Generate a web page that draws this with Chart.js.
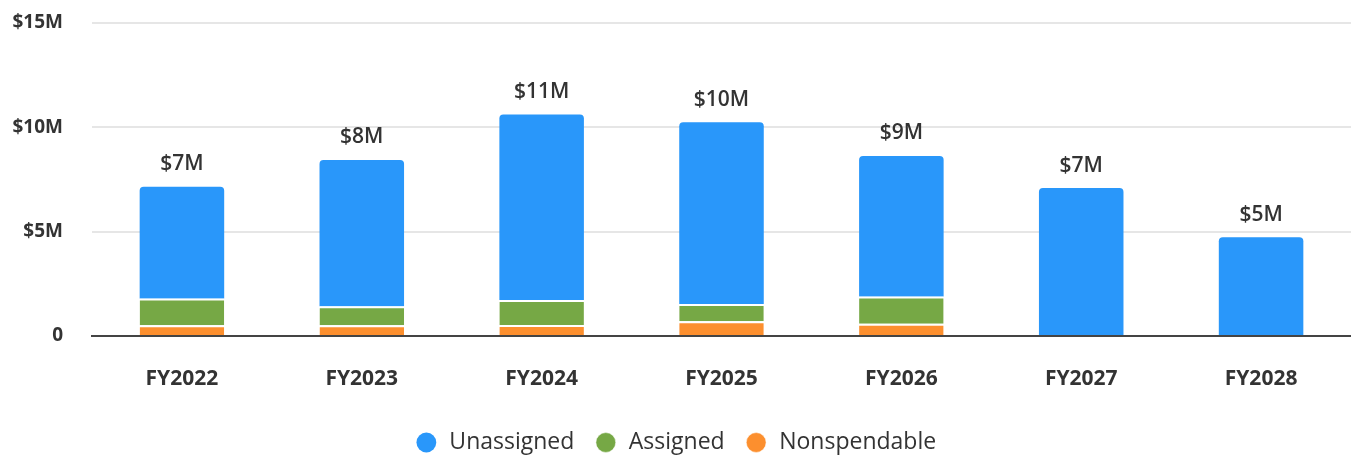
<!DOCTYPE html>
<html>
<head>
<meta charset="utf-8">
<script src="https://cdn.jsdelivr.net/npm/chart.js@4"></script>
<style>
  body { margin: 0; background: #fff; }
  #wrap { width: 1351px; height: 455px; }
</style>
</head>
<body>
<div id="wrap"><canvas id="fundChart"></canvas></div>
<script>
const years = ["FY2022", "FY2023", "FY2024", "FY2025", "FY2026", "FY2027", "FY2028"];
// values in $M
const unassigned = [5.35, 7.02, 8.9, 8.71, 6.74, 7.09, 4.73];
const assigned = [1.28, 0.9, 1.19, 0.82, 1.3, 0, 0];
const nonspendable = [0.52, 0.52, 0.53, 0.71, 0.59, 0, 0];
const yTicks = [0, 5, 10, 15];

const fontFamily = "'Open Sans', sans-serif";
const textColor = "#333333";

// total label over each stack
const totalsPlugin = {
  id: "totals",
  afterDatasetsDraw(chart) {
    const ctx = chart.ctx;
    const yScale = chart.scales.y;
    const xScale = chart.scales.x;
    ctx.save();
    ctx.font = "600 21px " + fontFamily;
    ctx.fillStyle = textColor;
    ctx.textAlign = "center";
    ctx.textBaseline = "bottom";
    years.forEach((yr, i) => {
      const total = unassigned[i] + assigned[i] + nonspendable[i];
      const x = xScale.getPixelForValue(i);
      const y = yScale.getPixelForValue(total);
      ctx.fillText("$" + Math.round(total) + "M", x, y - 12);
    });
    ctx.restore();
  },
};

const commonBar = {
  borderColor: "#ffffff",
  borderWidth: { top: 2, left: 0, right: 0, bottom: 0 },
  borderSkipped: "bottom",
  barPercentage: 0.47,
  categoryPercentage: 1,
};

new Chart(document.getElementById("fundChart"), {
  type: "bar",
  data: {
    labels: years,
    datasets: [
      {
        label: "Nonspendable",
        data: nonspendable,
        backgroundColor: "#fc8f2e",
        ...commonBar,
      },
      {
        label: "Assigned",
        data: assigned,
        backgroundColor: "#76a845",
        ...commonBar,
      },
      {
        label: "Unassigned",
        data: unassigned,
        backgroundColor: "#2997fa",
        ...commonBar,
        borderWidth: 0,
        borderRadius: { topLeft: 4, topRight: 4, bottomLeft: 0, bottomRight: 0 },
      },
    ],
  },
  options: {
    responsive: true,
    maintainAspectRatio: false,
    animation: false,
    layout: { padding: 0 },
    plugins: {
      legend: {
        position: "bottom",
        reverse: true,
        maxHeight: 44,
        labels: {
          usePointStyle: true,
          pointStyle: "circle",
          boxWidth: 28,
          boxHeight: 14,
          padding: 20,
          color: textColor,
          font: { family: fontFamily, size: 23 },
        },
      },
      tooltip: { enabled: false },
    },
    scales: {
      x: {
        stacked: true,
        afterFit: (axis) => {
          axis.height = 75;
        },
        grid: { display: false, drawTicks: false },
        border: { display: true, color: "#444444", width: 2 },
        ticks: {
          color: textColor,
          padding: 30,
          font: { family: fontFamily, size: 21, weight: "bold" },
        },
      },
      y: {
        stacked: true,
        min: 0,
        max: 15,
        afterBuildTicks: (axis) => {
          axis.ticks = yTicks.map((v) => ({ value: v }));
        },
        afterFit: (axis) => {
          axis.width = 92;
          axis.paddingTop = 23;
          axis.paddingBottom = 0;
        },
        grid: { color: "#e6e6e6", lineWidth: 2, drawTicks: false },
        border: { display: false },
        ticks: {
          color: textColor,
          padding: 29,
          font: { family: fontFamily, size: 19, weight: "bold" },
          callback: (v) => (v === 0 ? "0" : "$" + v + "M"),
        },
      },
    },
  },
  plugins: [totalsPlugin],
});
</script>
</body>
</html>
